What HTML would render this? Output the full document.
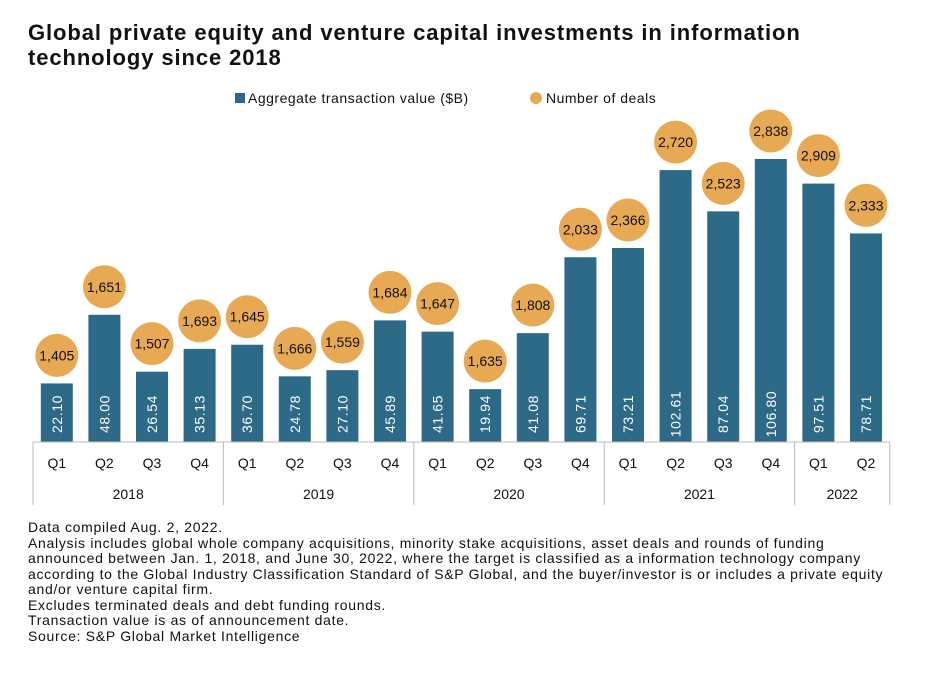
<!DOCTYPE html>
<html><head><meta charset="utf-8"><style>
body{margin:0;background:#fff;width:938px;height:684px;overflow:hidden;font-family:"Liberation Sans",sans-serif;}
.title{position:absolute;left:28px;top:20px;font-size:22px;font-weight:bold;color:#111;line-height:25px;letter-spacing:0.9px;}
.notes{position:absolute;left:28px;top:520px;font-size:14px;letter-spacing:0.7px;color:#111;line-height:15.5px;white-space:nowrap;}
</style></head><body>
<div class="title">Global private equity and venture capital investments in information<br>technology since 2018</div>
<svg width="938" height="684" style="position:absolute;left:0;top:0" id="chart">
<g>
<rect x="235" y="93" width="10" height="10" fill="#2c6a87"/>
<text x="248" y="103" font-size="14" letter-spacing="0.5" fill="#111">Aggregate transaction value ($B)</text>
<circle cx="536" cy="98" r="6" fill="#e8a955"/>
<text x="546" y="103" font-size="14" letter-spacing="0.5" fill="#111">Number of deals</text>
</g>
</svg>
<div class="notes">Data compiled Aug. 2, 2022.<br>Analysis includes global whole company acquisitions, minority stake acquisitions, asset deals and rounds of funding<br>announced between Jan. 1, 2018, and June 30, 2022, where the target is classified as a information technology company<br>according to the Global Industry Classification Standard of S&amp;P Global, and the buyer/investor is or includes a private equity<br>and/or venture capital firm.<br>Excludes terminated deals and debt funding rounds.<br>Transaction value is as of announcement date.<br>Source: S&amp;P Global Market Intelligence</div>
<script>
const quarters=["Q1","Q2","Q3","Q4","Q1","Q2","Q3","Q4","Q1","Q2","Q3","Q4","Q1","Q2","Q3","Q4","Q1","Q2"];
const years=["2018","2019","2020","2021","2022"];
const yearCounts=[4,4,4,4,2];
const values=[22.10,48.00,26.54,35.13,36.70,24.78,27.10,45.89,41.65,19.94,41.08,69.71,73.21,102.61,87.04,106.80,97.51,78.71];
const deals=["1,405","1,651","1,507","1,693","1,645","1,666","1,559","1,684","1,647","1,635","1,808","2,033","2,366","2,720","2,523","2,838","2,909","2,333"];
const svg=document.getElementById('chart');
const NS='http://www.w3.org/2000/svg';
const x0=33,step=47.6,base=442,scale=2.65,bw=32;
const xc=i=>x0+step*(i+0.5);
const y=v=>base-v*scale;
function mk(t,a){const e=document.createElementNS(NS,t);for(const k in a)e.setAttribute(k,a[k]);svg.appendChild(e);return e;}
values.forEach((v,i)=>{
 const r=mk('rect',{x:xc(i)-bw/2,y:y(v),width:bw,height:base-y(v),fill:'#2c6a87'});
 
 
 const t=mk('text',{x:0,y:0,'font-size':14,'letter-spacing':0.6,fill:'#fff','text-anchor':'middle',transform:`translate(${xc(i)+5},${base-28}) rotate(-90)`});
 t.textContent=v.toFixed(2);
 
 
 const c=mk('circle',{cx:xc(i),cy:y(v)-28,r:21.5,fill:'#e8a955'});
 
 
 const d=mk('text',{x:xc(i),y:y(v)-23,'font-size':14,fill:'#111','text-anchor':'middle'});
 d.textContent=deals[i];
 
 
 const q=mk('text',{x:xc(i),y:468,'font-size':14,fill:'#111','text-anchor':'middle'});
 q.textContent=quarters[i];
 
 
});
const xEnd=x0+step*values.length;
const ax=mk('line',{x1:x0,y1:base,x2:xEnd,y2:base,stroke:'#bbb'});


let k=0;
years.forEach((yr,j)=>{
 const l=mk('line',{x1:x0+step*k,y1:base,x2:x0+step*k,y2:505,stroke:'#bbb'});
 
 
 const t=mk('text',{x:x0+step*(k+yearCounts[j]/2),y:499,'font-size':14,fill:'#111','text-anchor':'middle'});
 t.textContent=yr;
 
 
 k+=yearCounts[j];
});
const le=mk('line',{x1:xEnd,y1:base,x2:xEnd,y2:505,stroke:'#bbb'});


</script>
</body></html>
